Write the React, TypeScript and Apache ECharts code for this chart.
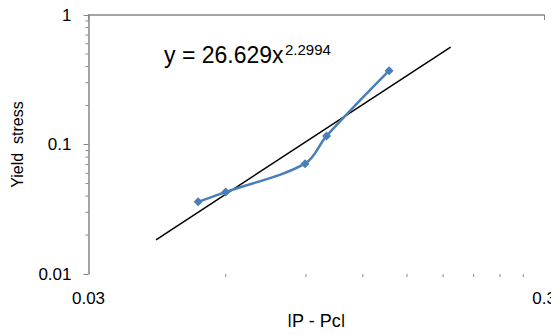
import React, { useEffect, useRef } from "react";
import * as echarts from "echarts";

const xValues = [0.0522, 0.06, 0.0896, 0.0999, 0.137];
const yValues = [0.0361, 0.043, 0.0712, 0.1165, 0.372];
const trendX = [0.0422, 0.187];
const trendY = [0.0184, 0.566];
const xMin = 0.03;
const xMax = 0.3;
const yMin = 0.01;
const yMax = 1;
const xMinorTicks = [0.06, 0.09, 0.12, 0.15, 0.18, 0.21, 0.24, 0.27];
const yMinorTicks = [0.02, 0.03, 0.04, 0.05, 0.06, 0.07, 0.08, 0.09, 0.2, 0.3, 0.4, 0.5, 0.6, 0.7, 0.8, 0.9];
const equationMain = "y = 26.629x";
const equationExp = "2.2994";
const xTitle = "|P - Pc|";
const yTitle = "Yield  stress";

const L = (v: number) => Math.log10(v);
const fmt = (v: number) => String(Number(Math.pow(10, v).toPrecision(2)));
const AXIS = "#868686";
const FONT = "Liberation Sans, Arial, sans-serif";

export default function App() {
  const ref = useRef<HTMLDivElement>(null);
  useEffect(() => {
    if (!ref.current) return;
    const chart = echarts.init(ref.current, null, { renderer: "svg" });
    const tickSeries = (data: number[][], horizontal: boolean) => ({
      type: "custom",
      silent: true,
      clip: false,
      z: 1,
      data,
      renderItem: (params: any, api: any) => {
        const p = api.coord([api.value(0), api.value(1)]);
        const shape = horizontal
          ? { x1: p[0], y1: p[1], x2: p[0], y2: p[1] + 3 }
          : { x1: p[0] - 3, y1: p[1], x2: p[0], y2: p[1] };
        return { type: "line", shape, style: { stroke: AXIS, lineWidth: 1 } };
      },
    });
    chart.setOption({
      animation: false,
      backgroundColor: "#ffffff",
      grid: { left: 88.5, right: 14, top: 15, bottom: 58, containLabel: false },
      xAxis: {
        type: "value",
        min: L(xMin),
        max: L(xMax),
        interval: 1,
        name: xTitle,
        nameLocation: "middle",
        nameGap: 37,
        nameTextStyle: { fontFamily: FONT, fontSize: 18, color: "#000" },
        axisLine: { show: true, lineStyle: { color: AXIS, width: 1.5 } },
        axisTick: { show: true, length: 5, lineStyle: { color: AXIS } },
        splitLine: { show: false },
        axisLabel: { formatter: fmt, margin: 16, fontFamily: FONT, fontSize: 17, color: "#000" },
      },
      yAxis: {
        type: "value",
        min: L(yMin),
        max: L(yMax),
        interval: 1,
        name: yTitle,
        nameLocation: "middle",
        nameGap: 63,
        nameTextStyle: { fontFamily: FONT, fontSize: 16, color: "#000" },
        axisLine: { show: true, lineStyle: { color: AXIS, width: 1.5 } },
        axisTick: { show: true, length: 5, lineStyle: { color: AXIS } },
        splitLine: { show: false },
        axisLabel: { formatter: fmt, margin: 17, fontFamily: FONT, fontSize: 17, color: "#000" },
      },
      series: [
        tickSeries(xMinorTicks.map((v) => [L(v), L(yMin)]), true),
        tickSeries(yMinorTicks.map((v) => [L(xMin), L(v)]), false),
        {
          type: "line",
          data: trendX.map((x, i) => [L(x), L(trendY[i])]),
          showSymbol: false,
          lineStyle: { color: "#000", width: 1.5 },
          z: 2,
        },
        {
          type: "line",
          data: xValues.map((x, i) => [L(x), L(yValues[i])]),
          smooth: 0.35,
          symbol: "diamond",
          symbolSize: 9,
          itemStyle: { color: "#4a7ebb" },
          lineStyle: { color: "#4a7ebb", width: 2.5 },
          z: 3,
        },
      ],
      graphic: [
        {
          type: "text",
          left: 164,
          top: 43,
          style: { text: equationMain, font: `23px ${FONT}`, fill: "#000" },
        },
        {
          type: "text",
          left: 285,
          top: 42,
          style: { text: equationExp, font: `15px ${FONT}`, fill: "#000" },
        },
      ],
    });
    return () => chart.dispose();
  }, []);
  return <div ref={ref} style={{ width: 559, height: 335, margin: -8 }} />;
}
